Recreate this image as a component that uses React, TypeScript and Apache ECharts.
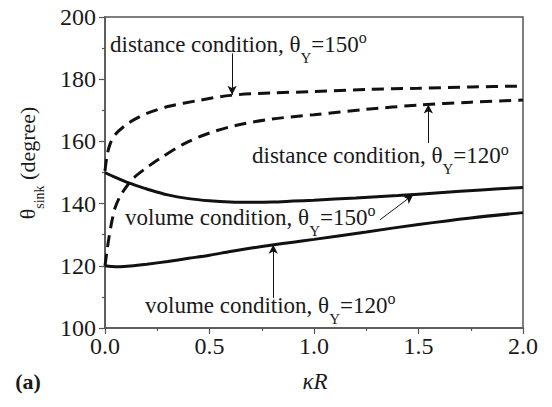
import React, { useEffect, useRef } from "react";
import * as echarts from "echarts";

const FONT = "Liberation Serif";
const TXT = "#1a1a1a";
const LINE = "#111111";

// kappa*R values and theta_sink values
const vol150X = [0, 0.05, 0.1, 0.15, 0.2, 0.3, 0.4, 0.5, 0.6, 0.7, 0.8, 0.9, 1.0, 1.2, 1.4, 1.6, 1.8, 2.0];
const vol150Y = [150, 148.4, 147.0, 145.8, 144.7, 142.8, 141.6, 140.9, 140.5, 140.4, 140.5, 140.8, 141.1, 141.8, 142.6, 143.5, 144.4, 145.2];

const vol120X = [0, 0.03, 0.07, 0.12, 0.2, 0.3, 0.4, 0.5, 0.6, 0.7, 0.8, 0.9, 1.0, 1.25, 1.5, 1.75, 2.0];
const vol120Y = [120, 119.8, 119.7, 119.9, 120.5, 121.4, 122.4, 123.4, 124.6, 125.7, 126.7, 127.6, 128.5, 130.9, 133.3, 135.4, 137.1];

const dist150X = [0, 0.01, 0.025, 0.05, 0.1, 0.15, 0.2, 0.3, 0.45, 0.6, 0.8, 1.0, 1.25, 1.5, 1.75, 2.0];
const dist150Y = [150.5, 155.5, 159.3, 162.3, 165.3, 167.4, 169.0, 171.2, 173.2, 174.8, 175.6, 176.0, 176.7, 177.1, 177.5, 177.8];

const dist120X = [0, 0.01, 0.02, 0.035, 0.05, 0.08, 0.135, 0.2, 0.26, 0.38, 0.5, 0.63, 0.8, 1.0, 1.25, 1.5, 1.75, 2.0];
const dist120Y = [120, 125, 129.5, 135, 139, 143.2, 148.1, 151.6, 154.4, 159.3, 162.7, 165.2, 167.2, 168.6, 170.3, 171.7, 172.6, 173.3];

// annotation arrows: [fromX, fromY, toX, toY] in data units
const arrows = [
  [0.608, 188.3, 0.608, 175.0],
  [1.547, 159.5, 1.547, 171.9],
  [1.316, 134.8, 1.474, 142.8],
  [0.805, 109.7, 0.805, 126.8],
];

const xTicks = { min: 0, max: 2, interval: 0.5 };
const yTicks = { min: 100, max: 200, interval: 20 };

const zip = (xs: number[], ys: number[]) => xs.map((x, i) => [x, ys[i]]);

const rich = {
  t: { fontSize: 23, fontFamily: FONT, fill: TXT },
  sub: { fontSize: 15, fontFamily: FONT, fill: TXT, padding: [27, 0, 0, 0] },
  sup: { fontSize: 16, fontFamily: FONT, fill: TXT, padding: [0, 0, 13, 0] },
};

const richName = {
  t: { fontSize: 22, fontFamily: FONT, fill: TXT },
  sub: { fontSize: 14, fontFamily: FONT, fill: TXT, padding: [24, 0, 0, 0] },
};

const label = (x: number, y: number, text: string) => ({
  type: "text",
  x,
  y,
  silent: true,
  style: { text, rich, align: "left", verticalAlign: "middle", fill: TXT, fontFamily: FONT, fontSize: 23 },
});

export default function App() {
  const ref = useRef<HTMLDivElement>(null);
  useEffect(() => {
    if (!ref.current) return;
    const chart = echarts.init(ref.current, null, { renderer: "svg" });
    const axisCommon = {
      axisLine: { show: true, lineStyle: { color: "#555", width: 1.5 } },
      axisTick: { show: true, inside: false, length: 6, lineStyle: { color: "#555", width: 1.2 } },
      minorTick: { show: true, splitNumber: 2, length: 3, lineStyle: { color: "#555", width: 1.2 } },
      splitLine: { show: false },
      minorSplitLine: { show: false },
    };
    const solid = (name: string, data: number[][]) => ({
      name,
      type: "line",
      data,
      smooth: 0.3,
      showSymbol: false,
      symbol: "none",
      lineStyle: { color: LINE, width: 3 },
      silent: true,
    });
    const dashed = (name: string, data: number[][]) => ({
      ...solid(name, data),
      lineStyle: { color: LINE, width: 3, type: [12, 7] },
    });
    chart.setOption({
      animation: false,
      textStyle: { fontFamily: FONT },
      grid: { left: 105, right: 29, top: 17, bottom: 79, show: true, borderColor: "#555", borderWidth: 1.5, backgroundColor: "transparent" },
      xAxis: {
        type: "value",
        ...xTicks,
        ...axisCommon,
        axisLabel: { fontSize: 24, fontFamily: FONT, color: TXT, margin: 6, formatter: (v: number) => v.toFixed(1) },
      },
      yAxis: {
        type: "value",
        ...yTicks,
        ...axisCommon,
        axisLabel: { fontSize: 24, fontFamily: FONT, color: TXT, margin: 9 },
      },
      series: [
        solid("volume condition, θY=150°", zip(vol150X, vol150Y)),
        solid("volume condition, θY=120°", zip(vol120X, vol120Y)),
        dashed("distance condition, θY=150°", zip(dist150X, dist150Y)),
        dashed("distance condition, θY=120°", zip(dist120X, dist120Y)),
        {
          type: "line",
          data: [],
          silent: true,
          markLine: {
            silent: true,
            animation: false,
            symbol: ["none", "arrow"],
            symbolSize: [7, 9],
            label: { show: false },
            lineStyle: { color: LINE, width: 1, type: "solid" },
            data: arrows.map((a) => [{ coord: [a[0], a[1]] }, { coord: [a[2], a[3]] }]),
          },
        },
      ],
      graphic: [
        label(110, 44, "{t|distance condition, θ}{sub|Y}{t|=150}{sup|o}"),
        label(252, 155.5, "{t|distance condition, θ}{sub|Y}{t|=120}{sup|o}"),
        label(125, 217, "{t|volume condition, θ}{sub|Y}{t|=150}{sup|o}"),
        label(145, 305, "{t|volume condition, θ}{sub|Y}{t|=120}{sup|o}"),
        {
          type: "text",
          x: 27,
          y: 163,
          rotation: Math.PI / 2,
          silent: true,
          style: { text: "{t|θ}{sub|sink}{t| (degree)}", rich: richName, align: "center", verticalAlign: "middle", fill: TXT, fontFamily: FONT, fontSize: 22 },
        },
        {
          type: "text",
          x: 315,
          y: 381,
          silent: true,
          style: { text: "κR", align: "center", verticalAlign: "middle", fill: TXT, fontFamily: FONT, fontSize: 23, fontStyle: "italic" },
        },
        {
          type: "text",
          x: 28,
          y: 381,
          silent: true,
          style: { text: "(a)", align: "center", verticalAlign: "middle", fill: TXT, fontFamily: FONT, fontSize: 22, fontWeight: "bold" },
        },
      ],
    });
    return () => chart.dispose();
  }, []);
  return <div ref={ref} style={{ width: 552, height: 407, position: "absolute", left: 0, top: 0 }} />;
}
